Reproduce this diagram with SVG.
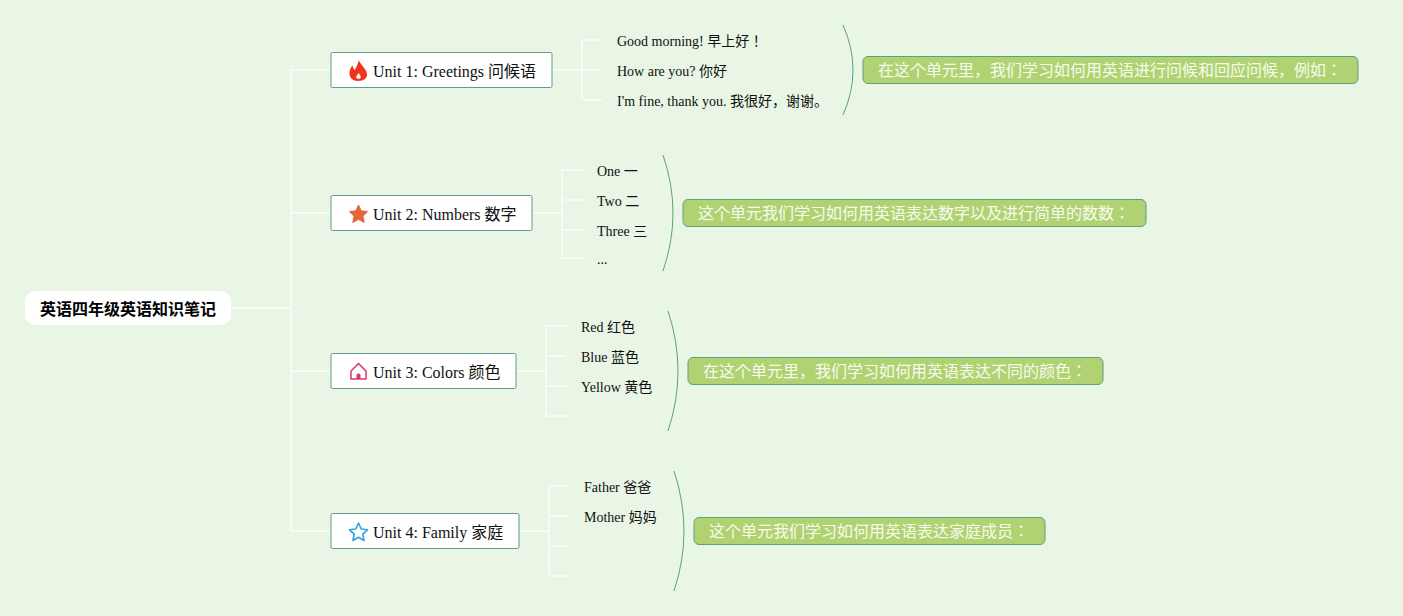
<svg xmlns="http://www.w3.org/2000/svg" width="1403" height="616" viewBox="0 0 1403 616">
<style>
text{font-family:"Liberation Serif","Noto Sans CJK JP",serif;fill:#111}
.c{fill:none;stroke:#f6fcf3;stroke-width:2}
.b{fill:none;stroke:#5f9f7c;stroke-width:1}
.u{fill:#fff;stroke:#5f9a8e;stroke-width:1}
.s{fill:#b1d273;stroke:#5f9f7c;stroke-width:1}
.t{font-size:16px}
.l{font-size:14px}
.w{font-size:16px;fill:#f7fbec}
</style>
<rect width="1403" height="616" fill="#e9f5e5"/>
<g id="connectors">
<path class="c" d="M231 308H291M291 70V531M291 70H331M291 213H331M291 371H331M291 531H331"/>
<path class="c" d="M552 70H602M582 40V100M582 40H602M582 100H602"/>
<path class="c" d="M532 213H562M562 170V258M562 170H582M562 200H582M562 230H582M562 258H582"/>
<path class="c" d="M516 371H546M546 326V416M546 326H566M546 356H566M546 386H566M546 416H566"/>
<path class="c" d="M519 531H549M549 486V576M549 486H569M549 516H569M549 546H569M549 576H569"/>
<path class="b" d="M843 25Q863 70 843 115"/>
<path class="b" d="M663 155Q683 213 663 271"/>
<path class="b" d="M668 311Q688 371 668 431"/>
<path class="b" d="M674 471Q694 531 674 591"/>
</g>
<g id="root">
<rect x="25" y="291" width="206" height="34" rx="10" fill="#fff"/>
<text x="40" y="315" font-size="16" font-weight="700" style="font-family:'Liberation Sans','Noto Sans CJK SC',sans-serif;fill:#000">英语四年级英语知识笔记</text>
</g>
<g id="unit1">
<rect class="u" x="331" y="52.500" width="221" height="35" rx="1.500"/>
<path d="M359 60C359.500 64 366 68 367 74C367.500 78 364 81 358 81C352 81 349 77 349.500 72C350 69 351 67 352.500 65.500C353 67.500 353.500 69 355 70C356 67 358 64 359 60Z" fill="#f0331c"/>
<path d="M358.500 73C359.800 74.500 361 76 360.700 77.500C360.200 79.300 356.800 79.300 356.300 77.500C356 76 357.500 74.500 358.500 73Z" fill="#fff"/>
<text class="t" x="373" y="77">Unit 1: Greetings 问候语</text>
</g>
<g id="unit1-items">
<text class="l" x="617" y="46">Good morning! 早上好！</text>
<text class="l" x="617" y="76">How are you? 你好</text>
<text class="l" x="617" y="106">I'm fine, thank you. 我很好，谢谢。</text>
</g>
<g id="unit1-summary">
<rect class="s" x="863" y="56.500" width="495" height="27" rx="5"/>
<text class="w" x="878" y="75.500">在这个单元里，我们学习如何用英语进行问候和回应问候，例如：</text>
</g>
<g id="unit2">
<rect class="u" x="331" y="195.500" width="201" height="35" rx="1.500"/>
<path d="M358.500 205L361.200 210.800L367.500 211.600L363 216.200L364.200 222.500L358.500 219.400L352.800 222.500L354 216.200L349.500 211.600L355.800 210.800Z" fill="#e4683a" stroke="#e4683a" stroke-linejoin="round"/>
<text class="t" x="373" y="220">Unit 2: Numbers 数字</text>
</g>
<g id="unit2-items">
<text class="l" x="597" y="176">One 一</text>
<text class="l" x="597" y="206">Two 二</text>
<text class="l" x="597" y="236">Three 三</text>
<text class="l" x="597" y="264">...</text>
</g>
<g id="unit2-summary">
<rect class="s" x="683" y="199.500" width="463" height="27" rx="5"/>
<text class="w" x="698" y="218.500">这个单元我们学习如何用英语表达数字以及进行简单的数数：</text>
</g>
<g id="unit3">
<rect class="u" x="331" y="353.500" width="185" height="35" rx="1.500"/>
<path d="M351 371L358.500 363.500L366 371V379H351Z" fill="none" stroke="#d8386a" stroke-width="1.500" stroke-linejoin="round"/>
<path d="M356.500 379V375Q358.500 371.500 360.500 375V379Z" fill="#d8386a"/>
<text class="t" x="373" y="378">Unit 3: Colors 颜色</text>
</g>
<g id="unit3-items">
<text class="l" x="581" y="332">Red 红色</text>
<text class="l" x="581" y="362">Blue 蓝色</text>
<text class="l" x="581" y="392">Yellow 黄色</text>
</g>
<g id="unit3-summary">
<rect class="s" x="688" y="357.500" width="415" height="27" rx="5"/>
<text class="w" x="703" y="376.500">在这个单元里，我们学习如何用英语表达不同的颜色：</text>
</g>
<g id="unit4">
<rect class="u" x="331" y="513.500" width="188" height="35" rx="1.500"/>
<path d="M358.500 523L361.200 529L367.500 529.800L362.800 534.200L364 540.500L358.500 537.300L353 540.500L354.200 534.200L349.500 529.800L355.800 529Z" fill="none" stroke="#2fa3dc" stroke-width="1.600" stroke-linejoin="round"/>
<text class="t" x="373" y="538">Unit 4: Family 家庭</text>
</g>
<g id="unit4-items">
<text class="l" x="584" y="492">Father 爸爸</text>
<text class="l" x="584" y="522">Mother 妈妈</text>
</g>
<g id="unit4-summary">
<rect class="s" x="694" y="517.500" width="351" height="27" rx="5"/>
<text class="w" x="709" y="536.500">这个单元我们学习如何用英语表达家庭成员：</text>
</g>
</svg>
